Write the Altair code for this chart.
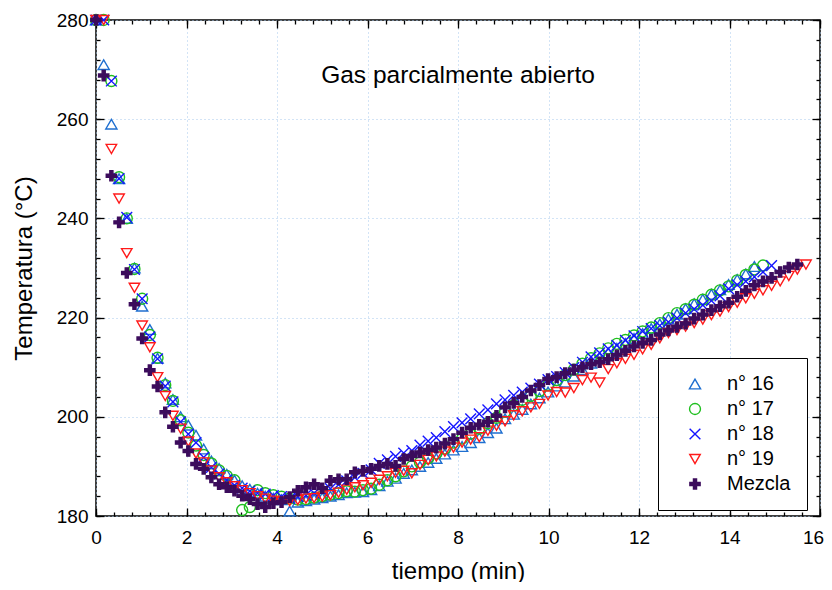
import altair as alt
import pandas as pd

SERIES = ["n° 16", "n° 17", "n° 18", "n° 19", "Mezcla"]
COLORS = ["#1f6fd0", "#1fbf1f", "#1414ff", "#ff1a1a", "#3c0c5c"]
FILLS = ["transparent", "transparent", "transparent", "transparent", "#3c0c5c"]
PLUS = "M-1,-0.3L-0.3,-0.3L-0.3,-1L0.3,-1L0.3,-0.3L1,-0.3L1,0.3L0.3,0.3L0.3,1L-0.3,1L-0.3,0.3L-1,0.3Z"
SHAPES = ["triangle-up", "circle", "M-1,-1L1,1M1,-1L-1,1", "triangle-down", PLUS]
SIZES = [125, 105, 95, 125, 90]

TIME = [0.00, 0.17, 0.34, 0.51, 0.68, 0.85, 1.02, 1.19, 1.36, 1.53,
        1.70, 1.87, 2.04, 2.21, 2.38, 2.55, 2.72, 2.89, 3.06, 3.23,
        3.40, 3.57, 3.74, 3.92, 4.10, 4.28, 4.46, 4.64, 4.82, 5.00,
        5.18, 5.36, 5.54, 5.72, 5.90, 6.08, 6.26, 6.44, 6.62, 6.80,
        6.98, 7.16, 7.34, 7.52, 7.71, 7.90, 8.09, 8.28, 8.47, 8.66,
        8.85, 9.04, 9.23, 9.42, 9.61, 9.80, 9.99, 10.18, 10.37, 10.56,
        10.75, 10.94, 11.13, 11.32, 11.51, 11.70, 11.89, 12.08, 12.27, 12.46,
        12.65, 12.84, 13.03, 13.22, 13.41, 13.60, 13.79, 13.98, 14.17, 14.36,
        14.55, 14.74, 14.93, 15.12, 15.31, 15.50, 15.69]

N16 = [280, 271, 259, 248, 240, 230, 222.3, 217.6, 211.8, 206.8,
       203.5, 200.0, 198.3, 196.3, 193.5, 191.1, 189.6, 188.4, 187.2, 186.1,
       185.4, 184.6, 184.0, 183.6, 183.3, 181.0, 182.8, 183.1, 183.4, 183.7,
       184.0, 184.3, 184.7, 184.8, 184.9, 185.3, 186.1, 187.0, 187.6, 188.6,
       189.3, 190.0, 190.8, 191.6, 192.5, 193.3, 194.0, 194.8, 195.8, 196.8,
       197.7, 199.6, 200.5, 201.5, 202.6, 203.8, 205.0, 206.2, 207.0, 208.2,
       209.5, 210.8, 211.9, 212.9, 213.8, 214.8, 215.8, 216.8, 217.8, 218.7,
       219.7, 220.7, 221.8, 222.8, 223.7, 224.7, 225.6, 226.7, 227.7, 228.8,
       230.3]

N17 = [280, 280, 267.7, 248.3, 240.0, 229.8, 223.8, 216.5, 211.9, 206.4,
       203.2, 199.3, 196.8, 194.2, 192.3, 190.6, 189.2, 188.1, 187.2, 181.2,
       181.8, 185.2, 184.6, 184.2, 183.9, 183.5, 183.3, 183.4, 183.7, 184.0,
       184.3, 184.6, 185.0, 184.9, 185.2, 185.5, 186.3, 187.2, 188.0, 189.0,
       190.0, 190.8, 191.6, 192.6, 193.6, 194.8, 195.6, 196.6, 197.6, 198.7,
       199.8, 201.0, 202.3, 203.4, 204.2, 205.2, 206.4, 207.4, 208.4, 209.5,
       210.7, 211.8, 212.8, 213.8, 214.7, 215.5, 216.4, 217.2, 218.0, 218.9,
       219.9, 220.9, 221.7, 222.6, 223.6, 224.6, 225.5, 226.3, 227.5, 228.6,
       229.7, 230.5]

N18 = [280, 280, 267.7, 248.0, 240.2, 229.7, 223.8, 216.1, 211.7, 206.2,
       203.0, 199.0, 196.5, 194.8, 191.8, 189.8, 188.5, 187.3, 186.2, 185.6,
       185.0, 184.6, 184.4, 184.1, 183.9, 183.5, 183.9, 184.2, 184.6, 185.0,
       185.5, 186.3, 187.1, 187.8, 188.6, 189.3, 190.6, 191.3, 192.0, 192.7,
       193.2, 194.3, 195.1, 195.8, 197.0, 198.0, 198.8, 199.6, 200.6, 201.4,
       202.6, 203.4, 204.3, 205.0, 205.8, 206.6, 207.5, 208.1, 208.9, 209.9,
       211.0, 212.1, 212.9, 213.7, 214.4, 215.4, 216.3, 217.2, 217.8, 218.4,
       219.1, 219.9, 220.9, 221.7, 222.5, 223.4, 224.4, 225.8, 226.6, 227.3,
       228.2, 229.2, 230.5]

N19 = [280, 280, 254.0, 244.0, 233.0, 226.0, 218.4, 214.0, 208.0, 204.2,
       200.2, 197.6, 195.0, 192.6, 190.8, 189.2, 187.8, 186.8, 186.0, 185.2,
       184.6, 184.0, 183.5, 183.1, 182.9, 183.0, 183.2, 183.5, 183.6, 183.9,
       184.2, 184.7, 185.3, 185.8, 186.2, 186.7, 187.3, 188.0, 188.7, 189.1,
       188.6, 190.3, 191.3, 192.0, 193.0, 193.8, 194.8, 195.4, 195.9, 197.2,
       198.2, 199.1, 200.3, 201.1, 201.9, 202.6, 204.3, 205.0, 204.9, 205.8,
       207.4, 207.9, 206.9, 209.6, 210.8, 211.7, 212.5, 213.6, 214.5, 215.8,
       216.9, 217.5, 218.2, 218.9, 219.6, 220.5, 221.2, 222.1, 223.0, 223.9,
       224.8, 225.5, 226.4, 227.3, 228.4, 229.7, 230.7]

MEZCLA = [280, 268.8, 248.6, 239.2, 229.0, 222.7, 215.8, 209.4, 206.1, 200.9,
          198.0, 194.8, 193.1, 190.5, 189.5, 187.8, 186.4, 185.8, 185.1, 184.1,
          183.4, 182.4, 181.8, 182.6, 182.8, 183.8, 185.1, 185.8, 186.4, 185.6,
          187.1, 187.4, 187.4, 188.8, 189.1, 189.5, 190.1, 190.5, 190.1, 191.5,
          192.1, 192.8, 193.3, 193.8, 194.6, 195.5, 196.8, 197.8, 198.4, 199.0,
          200.2, 201.9, 202.8, 204.0, 205.3, 206.4, 207.6, 208.0, 208.8, 209.5,
          210.0, 210.6, 211.0, 211.6, 212.4, 213.3, 214.2, 214.9, 215.5, 216.6,
          217.4, 218.1, 218.8, 219.8, 220.6, 221.5, 222.3, 223.0, 224.2, 225.4,
          226.5, 227.3, 228.0, 229.2, 230.1, 230.7]

X_MAJOR = [0, 2, 4, 6, 8, 10, 12, 14, 16]
X_MINOR = [round(i * 0.4, 1) for i in range(41)]
Y_MAJOR = [180, 200, 220, 240, 260, 280]
Y_MINOR = [180 + 4 * i for i in range(26)]

rows = []
for name, vals in zip(SERIES, [N16, N17, N18, N19, MEZCLA]):
    for t, v in zip(TIME, vals):
        rows.append({"serie": name, "t": t, "T": v})
df = pd.DataFrame(rows)

FONT = "Liberation Sans"
xs = alt.Scale(domain=[0, 16], nice=False, zero=False)
ys = alt.Scale(domain=[180, 280], nice=False, zero=False)

leg = alt.Legend(
    title=None, orient="none", legendX=562, legendY=338, padding=16,
    symbolOffset=11, labelOffset=22, rowPadding=5, labelFontSize=20,
    labelFont=FONT, labelColor="black", symbolStrokeWidth=1.4,
    fillColor="white", strokeColor="black",
)

points = alt.Chart(df).mark_point(opacity=1, strokeWidth=1.4).encode(
    x=alt.X("t:Q", scale=xs, axis=None),
    y=alt.Y("T:Q", scale=ys, axis=None),
    shape=alt.Shape("serie:N", scale=alt.Scale(domain=SERIES, range=SHAPES), legend=leg),
    stroke=alt.Stroke("serie:N", scale=alt.Scale(domain=SERIES, range=COLORS), legend=leg),
    fill=alt.Fill("serie:N", scale=alt.Scale(domain=SERIES, range=FILLS), legend=leg),
    size=alt.Size("serie:N", scale=alt.Scale(domain=SERIES, range=SIZES), legend=leg),
)


def carrier(xaxis, yaxis):
    return alt.Chart(df).mark_point(opacity=0).encode(
        x=alt.X("t:Q", scale=xs, axis=xaxis),
        y=alt.Y("T:Q", scale=ys, axis=yaxis),
    )


grid_kw = dict(grid=True, gridColor="#a6c8ec", gridDash=[1, 3], gridWidth=1,
               domain=False, ticks=False, labelColor="black", labelFont=FONT,
               labelFontSize=19, labelFlush=False, titleFont=FONT, titleFontSize=24,
               titleFontWeight="normal", titleColor="black")

base_x = alt.Axis(orient="bottom", values=X_MAJOR, labelPadding=12, title="tiempo (min)",
                  titlePadding=12, format="d",
                  labelOffset={"condition": {"test": "datum.value == 16", "value": -7}, "value": 0},
                  **grid_kw)
base_y = alt.Axis(orient="left", values=Y_MAJOR, labelPadding=8, title="Temperatura (°C)",
                  titlePadding=20, format="d", **grid_kw)


def tick_axis(orient, values, size):
    return alt.Axis(orient=orient, values=values, offset=-size, tickSize=size,
                    ticks=True, tickColor="black", tickWidth=1.3, labels=False,
                    domain=False, grid=False, title=None)


layers = [
    points,
    carrier(base_x, base_y),
    carrier(tick_axis("bottom", X_MAJOR, 8), tick_axis("left", Y_MAJOR, 8)),
    carrier(tick_axis("bottom", X_MINOR, 4), tick_axis("left", Y_MINOR, 4)),
    carrier(tick_axis("top", X_MAJOR, 8), tick_axis("right", Y_MAJOR, 8)),
    carrier(tick_axis("top", X_MINOR, 4), tick_axis("right", Y_MINOR, 4)),
]

chart = alt.layer(*layers).resolve_axis(x="independent", y="independent").properties(
    width=724, height=496,
    autosize=alt.AutoSizeParams(type="none"),
    padding={"left": 88, "top": 12, "right": 4, "bottom": 66},
    title=alt.TitleParams(text="Gas parcialmente abierto", fontSize=24.5, font=FONT,
                          fontWeight="normal", color="black", anchor="middle",
                          offset=-77),
).configure(font=FONT).configure_view(stroke="black", strokeWidth=1.5)

chart.save("out.html", embed_options={"renderer": "svg", "actions": False})
